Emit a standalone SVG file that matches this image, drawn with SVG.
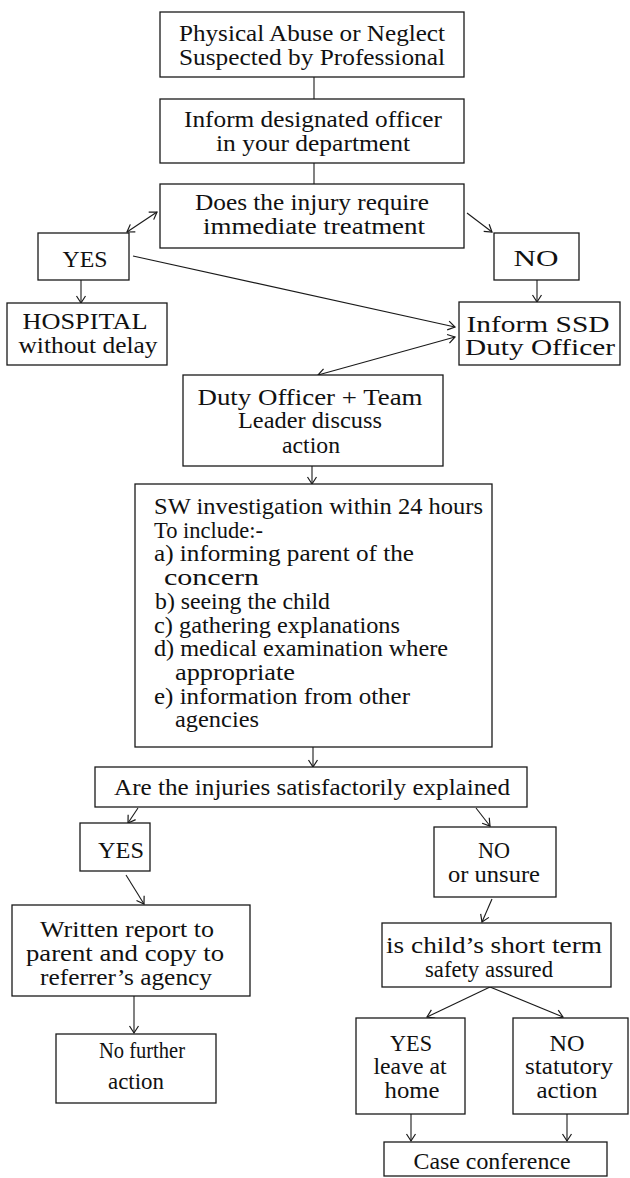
<svg xmlns="http://www.w3.org/2000/svg" width="630" height="1178" viewBox="0 0 630 1178">
<defs>
<style>
.box{fill:#fff;stroke:#1a1a1a;stroke-width:1.3}
.ln{fill:none;stroke:#1a1a1a;stroke-width:1.1}
text{font-family:"Liberation Serif","Times New Roman",serif;font-size:23px;fill:#111}
.c{text-anchor:middle}
</style>
<marker id="ah" markerWidth="12" markerHeight="12" refX="0" refY="0" viewBox="-9 -6 12 12" orient="auto-start-reverse" markerUnits="userSpaceOnUse">
<path d="M-7,-4.5 L0,0 L-7,4.5" fill="none" stroke="#1a1a1a" stroke-width="1.2"/>
</marker>
</defs>
<rect width="630" height="1178" fill="#fff"/>

<g id="connectors">
<line class="ln" x1="314" y1="77" x2="314" y2="99"/>
<line class="ln" x1="314" y1="163" x2="314" y2="184"/>
<line class="ln" x1="127" y1="232" x2="157" y2="212" marker-start="url(#ah)" marker-end="url(#ah)"/>
<line class="ln" x1="467" y1="213" x2="492" y2="232" marker-end="url(#ah)"/>
<line class="ln" x1="81" y1="280" x2="81" y2="303" marker-end="url(#ah)"/>
<line class="ln" x1="537" y1="280" x2="537" y2="302" marker-end="url(#ah)"/>
<line class="ln" x1="133" y1="256" x2="455" y2="327" marker-end="url(#ah)"/>
<line class="ln" x1="455" y1="337" x2="318" y2="375" marker-start="url(#ah)" marker-end="url(#ah)"/>
<line class="ln" x1="312" y1="466" x2="312" y2="484" marker-end="url(#ah)"/>
<line class="ln" x1="313" y1="747" x2="313" y2="767" marker-end="url(#ah)"/>
<line class="ln" x1="138" y1="808" x2="128" y2="823" marker-end="url(#ah)"/>
<line class="ln" x1="126" y1="875" x2="144" y2="904" marker-end="url(#ah)"/>
<line class="ln" x1="476" y1="808" x2="490" y2="826" marker-end="url(#ah)"/>
<line class="ln" x1="492" y1="899" x2="482" y2="922" marker-end="url(#ah)"/>
<line class="ln" x1="134" y1="996" x2="134" y2="1033" marker-end="url(#ah)"/>
<line class="ln" x1="490" y1="987" x2="427" y2="1017" marker-end="url(#ah)"/>
<line class="ln" x1="490" y1="987" x2="563" y2="1017" marker-end="url(#ah)"/>
<line class="ln" x1="411" y1="1114" x2="411" y2="1141" marker-end="url(#ah)"/>
<line class="ln" x1="567" y1="1114" x2="567" y2="1141" marker-end="url(#ah)"/>
</g>

<g id="n-suspected">
<rect class="box" x="160" y="12" width="304" height="65"/>
<text class="c" x="312" y="41" textLength="266" lengthAdjust="spacingAndGlyphs">Physical Abuse or Neglect</text>
<text class="c" x="312" y="65" textLength="266" lengthAdjust="spacingAndGlyphs">Suspected by Professional</text>
</g>
<g id="n-inform-officer">
<rect class="box" x="160" y="99" width="304" height="64"/>
<text class="c" x="313" y="127" textLength="258" lengthAdjust="spacingAndGlyphs">Inform designated officer</text>
<text class="c" x="313" y="151" textLength="194" lengthAdjust="spacingAndGlyphs">in your department</text>
</g>
<g id="n-injury">
<rect class="box" x="160" y="184" width="304" height="64"/>
<text class="c" x="312" y="210" textLength="234" lengthAdjust="spacingAndGlyphs">Does the injury require</text>
<text class="c" x="314" y="234" textLength="222" lengthAdjust="spacingAndGlyphs">immediate treatment</text>
</g>
<g id="n-yes1">
<rect class="box" x="38" y="233" width="91" height="47"/>
<text class="c" x="85" y="267" textLength="45" lengthAdjust="spacingAndGlyphs">YES</text>
</g>
<g id="n-no1">
<rect class="box" x="494" y="233" width="85" height="47"/>
<text class="c" x="536" y="266" textLength="45" lengthAdjust="spacingAndGlyphs">NO</text>
</g>
<g id="n-hospital">
<rect class="box" x="7" y="303" width="160" height="62"/>
<text class="c" x="85" y="329" textLength="125" lengthAdjust="spacingAndGlyphs">HOSPITAL</text>
<text class="c" x="88" y="353" textLength="139" lengthAdjust="spacingAndGlyphs">without delay</text>
</g>
<g id="n-ssd">
<rect class="box" x="459" y="302" width="161" height="63"/>
<text class="c" x="538" y="332" textLength="143" lengthAdjust="spacingAndGlyphs">Inform SSD</text>
<text class="c" x="540" y="355" textLength="150" lengthAdjust="spacingAndGlyphs">Duty Officer</text>
</g>
<g id="n-discuss">
<rect class="box" x="183" y="375" width="260" height="91"/>
<text class="c" x="310" y="405" textLength="225" lengthAdjust="spacingAndGlyphs">Duty Officer  +  Team</text>
<text class="c" x="310" y="428" textLength="144" lengthAdjust="spacingAndGlyphs">Leader discuss</text>
<text class="c" x="311" y="453" textLength="58" lengthAdjust="spacingAndGlyphs">action</text>
</g>
<g id="n-investigation">
<rect class="box" x="135" y="484" width="357" height="263"/>
<text x="154" y="514" textLength="329" lengthAdjust="spacingAndGlyphs">SW investigation within 24 hours</text>
<text x="154" y="537.7" textLength="109" lengthAdjust="spacingAndGlyphs">To include:-</text>
<text x="154" y="561.4" textLength="260" lengthAdjust="spacingAndGlyphs">a) informing parent of the</text>
<text x="164" y="585" textLength="95" lengthAdjust="spacingAndGlyphs">concern</text>
<text x="155" y="608.8" textLength="175" lengthAdjust="spacingAndGlyphs">b) seeing the child</text>
<text x="154" y="632.5" textLength="246" lengthAdjust="spacingAndGlyphs">c) gathering explanations</text>
<text x="154" y="656" textLength="294" lengthAdjust="spacingAndGlyphs">d) medical examination where</text>
<text x="175" y="680" textLength="120" lengthAdjust="spacingAndGlyphs">appropriate</text>
<text x="154" y="703.6" textLength="256" lengthAdjust="spacingAndGlyphs">e) information from other</text>
<text x="175" y="727.3" textLength="84" lengthAdjust="spacingAndGlyphs">agencies</text>
</g>
<g id="n-explained">
<rect class="box" x="95" y="767" width="432" height="40"/>
<text class="c" x="312" y="795" textLength="396" lengthAdjust="spacingAndGlyphs">Are the injuries satisfactorily explained</text>
</g>
<g id="n-yes2">
<rect class="box" x="80" y="823" width="70" height="48"/>
<text class="c" x="121" y="858" textLength="46" lengthAdjust="spacingAndGlyphs">YES</text>
</g>
<g id="n-no2">
<rect class="box" x="434" y="827" width="122" height="70"/>
<text class="c" x="494" y="858" textLength="32" lengthAdjust="spacingAndGlyphs">NO</text>
<text class="c" x="494" y="882" textLength="92" lengthAdjust="spacingAndGlyphs">or unsure</text>
</g>
<g id="n-report">
<rect class="box" x="12" y="905" width="238" height="91"/>
<text class="c" x="127" y="937" textLength="174" lengthAdjust="spacingAndGlyphs">Written report to</text>
<text class="c" x="125" y="961" textLength="198" lengthAdjust="spacingAndGlyphs">parent and copy to</text>
<text class="c" x="126" y="985" textLength="172" lengthAdjust="spacingAndGlyphs">referrer’s agency</text>
</g>
<g id="n-safety">
<rect class="box" x="382" y="923" width="229" height="64"/>
<text class="c" x="494" y="953" textLength="216" lengthAdjust="spacingAndGlyphs">is child’s short term</text>
<text class="c" x="489" y="977" textLength="128" lengthAdjust="spacingAndGlyphs">safety assured</text>
</g>
<g id="n-nfa">
<rect class="box" x="56" y="1034" width="160" height="69"/>
<text class="c" x="142" y="1058" textLength="86" lengthAdjust="spacingAndGlyphs">No further</text>
<text class="c" x="136" y="1089" textLength="56" lengthAdjust="spacingAndGlyphs">action</text>
</g>
<g id="n-leave">
<rect class="box" x="356" y="1018" width="109" height="96"/>
<text class="c" x="411" y="1051" textLength="42" lengthAdjust="spacingAndGlyphs">YES</text>
<text class="c" x="410" y="1074" textLength="73" lengthAdjust="spacingAndGlyphs">leave at</text>
<text class="c" x="412" y="1098" textLength="55" lengthAdjust="spacingAndGlyphs">home</text>
</g>
<g id="n-statutory">
<rect class="box" x="513" y="1018" width="115" height="96"/>
<text class="c" x="567" y="1051" textLength="35" lengthAdjust="spacingAndGlyphs">NO</text>
<text class="c" x="569" y="1074" textLength="88" lengthAdjust="spacingAndGlyphs">statutory</text>
<text class="c" x="567" y="1098" textLength="61" lengthAdjust="spacingAndGlyphs">action</text>
</g>
<g id="n-conference">
<rect class="box" x="384" y="1142" width="223" height="34"/>
<text class="c" x="492" y="1169" textLength="157" lengthAdjust="spacingAndGlyphs">Case conference</text>
</g>
</svg>
